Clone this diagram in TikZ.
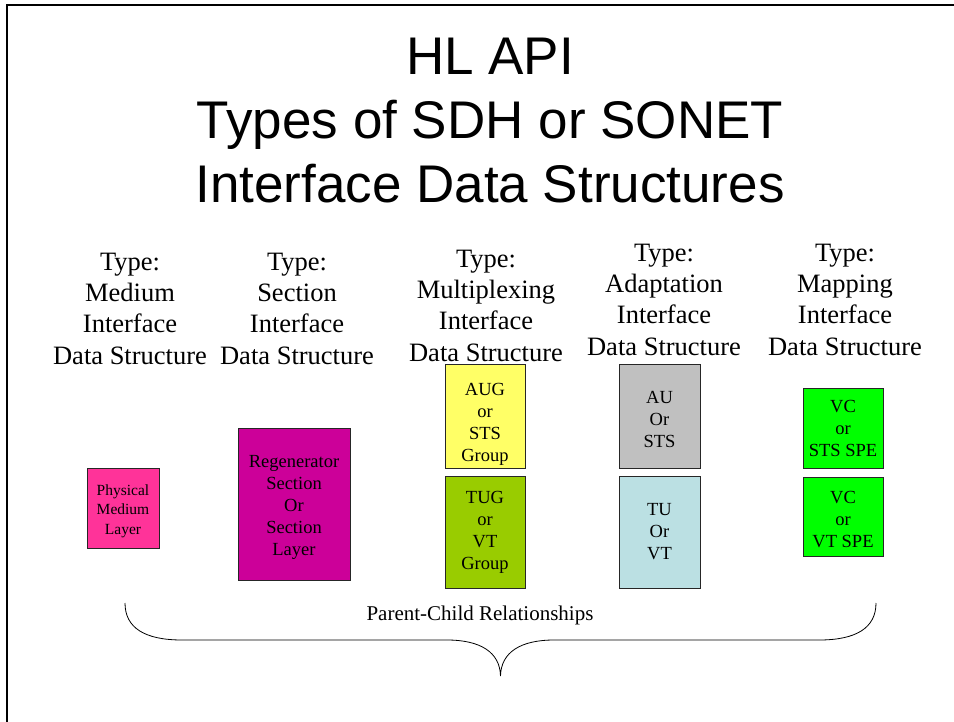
\documentclass[tikz,border=0pt]{standalone}
\usepackage{fontspec}
\setmainfont{Liberation Serif}
\newfontfamily\arialf{Liberation Sans}
\definecolor{pinkA}{HTML}{FF3399}
\definecolor{magA}{HTML}{CC0099}
\definecolor{yelA}{HTML}{FFFF66}
\definecolor{oliveA}{HTML}{99CC00}
\definecolor{grayA}{HTML}{C0C0C0}
\definecolor{blueA}{HTML}{BBE0E3}
\definecolor{greenA}{HTML}{00FF00}
\begin{document}
\begin{tikzpicture}[x=1pt,y=-1pt,
 hdr/.style={align=center, inner sep=0pt, anchor=base, font=\fontsize{26.5}{31.3}\selectfont},
 cell/.style={draw=black!85, line width=0.9pt, inner sep=0pt},
 lt/.style={align=center, inner sep=0pt, text=black, font=\fontsize{18.5}{22}\selectfont},
 ttl/.style={align=center, inner sep=0pt, anchor=base, font=\arialf\fontsize{53}{64}\selectfont}]
\useasboundingbox (0,0) rectangle (954,721);
\draw[line width=2.5pt] (7,730) -- (7,5) -- (960,5);
% title (base anchor = last line baseline)
\node[ttl] (title) at (490,202) {HL API\\Types of SDH or SONET\\Interface Data Structures};
% headers
\node[hdr] (h1) at (130,364) {Type:\\Medium\\Interface\\Data Structure};
\node[hdr] (h2) at (297,364) {Type:\\Section\\Interface\\Data Structure};
\node[hdr] (h3) at (486,361) {Type:\\Multiplexing\\Interface\\Data Structure};
\node[hdr] (h4) at (664,355) {Type:\\Adaptation\\Interface\\Data Structure};
\node[hdr] (h5) at (845,355) {Type:\\Mapping\\Interface\\Data Structure};
% boxes
\node[cell, fill=pinkA, minimum width=72, minimum height=80,
  label={[lt, yshift=-3pt, font=\fontsize{15.5}{19.5}\selectfont]center:{Physical\\Medium\\Layer}}] (phys) at (123,508) {};
\node[cell, fill=magA, minimum width=112, minimum height=152,
  label={[lt, yshift=-3pt]center:{Regenerator\\Section\\Or\\Section\\Layer}}] (regen) at (294,504) {};
\node[cell, fill=yelA, minimum width=80, minimum height=104,
  label={[lt, yshift=-8pt]center:{AUG\\or\\STS\\Group}}] (aug) at (485,416) {};
\node[cell, fill=oliveA, minimum width=80, minimum height=112,
  label={[lt]center:{TUG\\or\\VT\\Group}}] (tug) at (485,532) {};
\node[cell, fill=grayA, minimum width=81, minimum height=104,
  label={[lt, yshift=-3pt]center:{AU\\Or\\STS}}] (au) at (659.5,416) {};
\node[cell, fill=blueA, minimum width=81, minimum height=112,
  label={[lt]center:{TU\\Or\\VT}}] (tu) at (659.5,532) {};
\node[cell, fill=greenA, minimum width=80, minimum height=80,
  label={[lt]center:{VC\\or\\STS SPE}}] (vc1) at (843,428) {};
\node[cell, fill=greenA, minimum width=80, minimum height=79,
  label={[lt, yshift=-3pt]center:{VC\\or\\VT SPE}}] (vc2) at (843,516.5) {};
% brace
\node[inner sep=0pt, anchor=base, font=\fontsize{21}{25}\selectfont] (pcr) at (480,620) {Parent-Child Relationships};
\draw[line width=0.8pt] (125,603) .. controls (125,628) and (145,640) .. (182,640) -- (447,640)
  .. controls (480,640) and (500,652) .. (500.5,676)
  .. controls (501,652) and (521,640) .. (554,640) -- (819,640)
  .. controls (856,640) and (876,628) .. (876,603);
\end{tikzpicture}
\end{document}
